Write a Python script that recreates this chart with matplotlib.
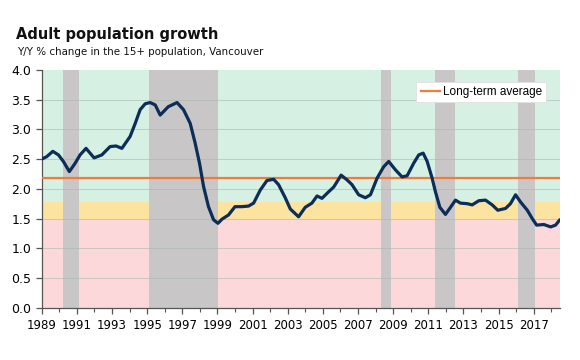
import numpy as np
import matplotlib.pyplot as plt
from matplotlib.ticker import MultipleLocator

# y/y % change in the 15+ population
years = [1989.0, 1989.28, 1989.63, 1989.95, 1990.23, 1990.57, 1990.9, 1991.18,
         1991.52, 1991.98, 1992.42, 1992.89, 1993.23, 1993.56, 1994.03, 1994.32,
         1994.6, 1994.89, 1995.17, 1995.46, 1995.74, 1996.2, 1996.7, 1997.07,
         1997.45, 1997.73, 1997.98, 1998.21, 1998.49, 1998.78, 1999.03, 1999.26,
         1999.63, 2000.0, 2000.4, 2000.77, 2001.06, 2001.44, 2001.82, 2002.2,
         2002.48, 2002.86, 2003.15, 2003.62, 2004.0, 2004.38, 2004.67, 2004.95,
         2005.33, 2005.62, 2006.04, 2006.38, 2006.66, 2007.04, 2007.42, 2007.71,
         2008.09, 2008.46, 2008.75, 2009.13, 2009.51, 2009.8, 2010.17, 2010.46,
         2010.71, 2010.94, 2011.22, 2011.41, 2011.66, 2011.98, 2012.27, 2012.55,
         2012.83, 2013.22, 2013.5, 2013.88, 2014.26, 2014.64, 2014.96, 2015.4,
         2015.68, 2015.97, 2016.25, 2016.64, 2016.92, 2017.17, 2017.58, 2017.97,
         2018.25, 2018.49]
growth = [2.50, 2.54, 2.63, 2.57, 2.46, 2.29, 2.43, 2.57,
          2.68, 2.52, 2.57, 2.71, 2.72, 2.68, 2.88, 3.10,
          3.33, 3.43, 3.45, 3.41, 3.24, 3.38, 3.45, 3.33,
          3.10, 2.77, 2.43, 2.04, 1.70, 1.48, 1.42, 1.49,
          1.56, 1.70, 1.70, 1.71, 1.76, 1.98, 2.14, 2.16,
          2.07, 1.85, 1.66, 1.53, 1.69, 1.76, 1.88, 1.84,
          1.95, 2.03, 2.23, 2.15, 2.07, 1.90, 1.85, 1.90,
          2.18, 2.37, 2.46, 2.32, 2.20, 2.22, 2.43, 2.57,
          2.60, 2.46, 2.18, 1.95, 1.69, 1.57, 1.69, 1.81,
          1.76, 1.75, 1.73, 1.80, 1.81, 1.73, 1.64, 1.67,
          1.75, 1.90, 1.78, 1.64, 1.50, 1.39, 1.40, 1.36,
          1.39, 1.48]

long_term_avg = 2.18

# shaded periods (start, end)
periods = [(1990.2, 1991.1), (1995.1, 1999.05), (2008.33, 2008.9),
           (2011.37, 2012.5), (2016.1, 2017.07)]

# background zones
zone_low = 1.475
zone_high = 1.775

xmin, xmax = 1989, 2018.5

fig = plt.figure(figsize=(5.8, 3.6), dpi=100)
ax = fig.add_axes([0.072, 0.145, 0.8935, 0.661])

ax.axhspan(0, zone_low, color='#fdd8da', lw=0, zorder=0)
ax.axhspan(zone_low, zone_high, color='#fde3a0', lw=0, zorder=0)
ax.axhspan(zone_high, 4.0, color='#d6f1e4', lw=0, zorder=0)
for a, b in periods:
    ax.axvspan(a, b, color='#c8c6c6', lw=0, zorder=1)

for yv in np.arange(0.5, 4.0, 0.5):
    ax.axhline(yv, color='#a9b8ae', lw=0.7, alpha=0.6, zorder=2)

ax.axhline(long_term_avg, color='#f07c3c', lw=1.6, zorder=3, label='Long-term average')
ax.plot(years, growth, color='#0b2d57', lw=2.3, zorder=4, solid_capstyle='round')

ax.set_xlim(xmin, xmax)
ax.set_ylim(0, 4.0)
ax.xaxis.set_minor_locator(MultipleLocator(1))
ax.set_yticks(np.arange(0, 4.01, 0.5))
ax.set_yticklabels(['%.1f' % v for v in np.arange(0, 4.01, 0.5)])
ax.set_xticks(range(1989, 2019, 2))
ax.set_xticklabels([str(y) for y in range(1989, 2019, 2)])

for s in ['top', 'right']:
    ax.spines[s].set_visible(False)
for s in ['left', 'bottom']:
    ax.spines[s].set_color('#555555')
    ax.spines[s].set_linewidth(0.9)
ax.tick_params(axis='y', which='major', labelsize=9, color='#555555', length=4, width=0.9)
ax.tick_params(axis='x', which='major', labelsize=8.5, color='#555555', length=4, width=0.9, pad=4)
ax.tick_params(axis='x', which='minor', color='#555555', length=3, width=0.8)

leg = ax.legend(loc='upper right', bbox_to_anchor=(0.985, 0.975),
                frameon=True, fancybox=False, handlelength=1.6, handletextpad=0.3,
                borderpad=0.35, prop={'family': 'Liberation Sans', 'size': 8.5})
leg.get_frame().set_facecolor('white')
leg.get_frame().set_edgecolor('#e0e0e0')
leg.get_frame().set_linewidth(0.6)
leg.get_frame().set_alpha(1.0)

fig.text(0.028, 0.905, 'Adult population growth', fontsize=10.5, fontweight='bold',
         color='#111111', va='center')
fig.text(0.029, 0.855, 'Y/Y % change in the 15+ population, Vancouver', fontsize=7.4,
         color='#111111', va='center')

fig.savefig('out.png', dpi=100)
